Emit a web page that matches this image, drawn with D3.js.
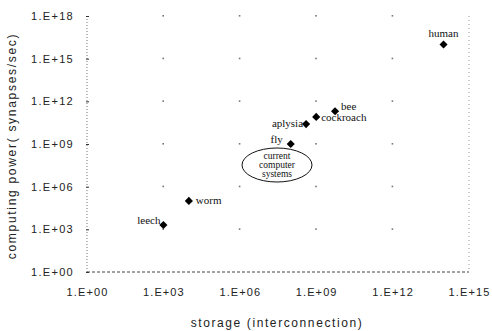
<!DOCTYPE html>
<html><head><meta charset="utf-8">
<script src="https://cdn.jsdelivr.net/npm/d3@7"></script>
<style>body{margin:0;background:#fff}svg{display:block}</style>
</head><body>
<script>
const names = ["leech","worm","fly","aplysia","cockroach","bee","human"];
const storage = [1e3, 1e4, 1e8, 4e8, 1e9, 5.5e9, 1e14];
const computing = [2e3, 1e5, 1e9, 2.5e10, 8e10, 2e11, 1e16];
const xTicks = [1e0,1e3,1e6,1e9,1e12,1e15];
const yTicks = [1e0,1e3,1e6,1e9,1e12,1e15,1e18];
const xTickLabels = ["1.E+00","1.E+03","1.E+06","1.E+09","1.E+12","1.E+15"];
const yTickLabels = ["1.E+00","1.E+03","1.E+06","1.E+09","1.E+12","1.E+15","1.E+18"];

const W=492,H=331;
const svg=d3.select("body").append("svg").attr("width",W).attr("height",H);
const x=d3.scaleLog().domain([1e0,1e15]).range([87,469]);
const y=d3.scaleLog().domain([1e0,1e18]).range([272,16]);
const sans="Liberation Sans, Arial, sans-serif";
const serif="Liberation Serif, Times New Roman, serif";

// axes lines (dotted)
svg.append("line").attr("x1",x(1)).attr("x2",x(1)).attr("y1",y(1e18)).attr("y2",y(1))
  .attr("stroke","#777").attr("stroke-width",1).attr("stroke-dasharray","1,2");
svg.append("line").attr("x1",x(1e15)).attr("x2",x(1e15)).attr("y1",y(1e18)).attr("y2",y(1))
  .attr("stroke","#999").attr("stroke-width",1).attr("stroke-dasharray","1,3");
svg.append("line").attr("x1",x(1)).attr("x2",x(1e15)).attr("y1",y(1)).attr("y2",y(1))
  .attr("stroke","#444").attr("stroke-width",1).attr("stroke-dasharray","3,2");

// grid dots
const gridPts=[];
xTicks.slice(1,5).forEach(tx=>yTicks.slice(1).forEach(ty=>gridPts.push([tx,ty])));
svg.append("g").selectAll("rect").data(gridPts).join("rect")
  .attr("x",d=>x(d[0])-1).attr("y",d=>y(d[1])-1).attr("width",1.6).attr("height",1.6).attr("fill","#777");

// y axis ticks & labels
const yAxis=d3.axisLeft(y).tickValues(yTicks).tickSize(3).tickPadding(12)
  .tickFormat((d,i)=>yTickLabels[i]);
const gy=svg.append("g").attr("transform",`translate(${x(1)+2},0)`).call(yAxis);
gy.select(".domain").remove();
gy.selectAll("line").attr("stroke","#333");
gy.selectAll("text").attr("font-family",sans).attr("font-size",11).attr("letter-spacing","1.3px").attr("fill","#222");

const xAxis=d3.axisBottom(x).tickValues(xTicks).tickSize(0).tickPadding(16)
  .tickFormat((d,i)=>xTickLabels[i]);
const gx=svg.append("g").attr("transform",`translate(0,${y(1)})`).call(xAxis);
gx.select(".domain").remove();
gx.selectAll("text").attr("font-family",sans).attr("font-size",11).attr("letter-spacing","1.1px").attr("fill","#222");

// axis titles
svg.append("text").attr("x",277).attr("y",327).attr("text-anchor","middle")
  .attr("font-family",sans).attr("font-size",12).attr("letter-spacing","1.6px").attr("fill","#222")
  .text("storage (interconnection)");
svg.append("text").attr("transform","translate(16,146) rotate(-90)").attr("text-anchor","middle")
  .attr("font-family",sans).attr("font-size",12).attr("letter-spacing","1.7px").attr("fill","#222")
  .text("computing power( synapses/sec)");

// points
const data=names.map((n,i)=>({n,s:storage[i],c:computing[i]}));
svg.append("g").selectAll("path").data(data).join("path")
  .attr("transform",d=>`translate(${x(d.s)},${y(d.c)})`)
  .attr("d",d3.symbol(d3.symbolDiamond2,42)()).attr("fill","#000");

const off={leech:[-3,-1,"end"],worm:[7,3,"start"],fly:[-8,-1,"end"],aplysia:[-3,3,"end"],
  cockroach:[5,4,"start"],bee:[6,-1,"start"],human:[0,-7,"middle"]};
svg.append("g").selectAll("text").data(data).join("text")
  .attr("x",d=>x(d.s)+off[d.n][0]).attr("y",d=>y(d.c)+off[d.n][1])
  .attr("text-anchor",d=>off[d.n][2]).attr("font-family",serif).attr("font-size",11).attr("fill","#111")
  .text(d=>d.n);

// ellipse annotation
svg.append("ellipse").attr("cx",277).attr("cy",165).attr("rx",35).attr("ry",17)
  .attr("fill","none").attr("stroke","#111").attr("stroke-width",1);
const lines=["current","computer","systems"];
svg.append("g").selectAll("text").data(lines).join("text")
  .attr("x",277).attr("y",(d,i)=>159+i*9).attr("text-anchor","middle")
  .attr("font-family",serif).attr("font-size",9.5).attr("fill","#111").text(d=>d);
</script>
</body></html>
